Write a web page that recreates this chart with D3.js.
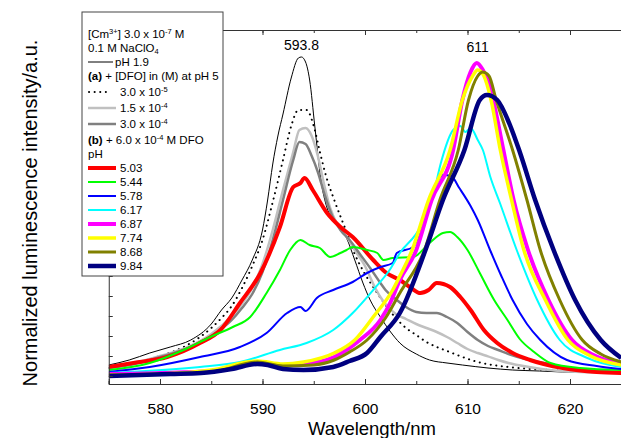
<!DOCTYPE html>
<html>
<head>
<meta charset="utf-8">
<script src="https://cdn.jsdelivr.net/npm/d3@7"></script>
<style>
  html, body { margin: 0; padding: 0; background: #fff; }
  svg { display: block; font-family: Arial, "Liberation Sans", sans-serif; }
</style>
</head>
<body>
<div id="chart"></div>
<script>
// spectra: [wavelength nm, intensity a.u.]
const ph19 = [[575,0.55],[577,0.8],[579,1.15],[581,1.45],[583,1.8],[585,2.6],[586,3.3],[587,3.9],[588,4.8],[589,5.8],[590,7.3],[590.5,8.8],[591,10.6],[591.5,12.0],[592,13.1],[592.8,14.9],[593.5,15.9],[593.8,15.95],[594.2,15.7],[594.6,14.8],[595.1,12.5],[595.7,9.8],[596.3,8.4],[597,7.8],[598.2,6.9],[599,5.8],[599.8,4.65],[600.5,3.8],[601.5,2.95],[602.5,2.2],[603.4,1.65],[605,1.1],[606.3,0.8],[608,0.65],[609.5,0.55],[612,0.4],[614.4,0.3],[617,0.25],[619.3,0.2],[622,0.18],[625,0.15]];
const dfo3e5 = [[575,0.4],[577.5,0.65],[580,1.0],[582.5,1.5],[585,2.4],[586,2.9],[587,3.5],[588,4.4],[589,5.5],[590,6.8],[591,8.7],[592,10.8],[592.8,12.5],[593.5,13.3],[594.3,13.3],[595,12.5],[595.6,11.2],[596.2,10.0],[597,8.8],[598.2,7.2],[599,6.1],[600,5.1],[601,4.3],[602,3.55],[603,2.9],[604,2.4],[605,2.05],[606,1.7],[607,1.45],[608,1.25],[609,1.05],[611,0.7],[614,0.45],[618,0.3],[625,0.2]];
const dfo15e4 = [[575,0.45],[577.5,0.65],[580,1.0],[582.5,1.4],[585,2.1],[587,3.0],[588,3.6],[589,4.4],[590,5.6],[591,7.3],[592,9.3],[593,11.2],[593.6,12.3],[594.2,12.4],[594.8,12.0],[595.4,11.0],[596,9.6],[596.6,8.4],[597.4,7.5],[598.3,6.9],[599,6.3],[600,5.5],[601,4.4],[601.5,3.95],[602,3.6],[603,3.1],[604,2.85],[605,2.6],[606,2.4],[607,2.2],[608,1.95],[609,1.65],[610,1.35],[611,1.15],[612,0.98],[613,0.8],[614,0.65],[616,0.45],[618,0.3],[621,0.2],[625,0.15]];
const dfo3e4 = [[575,0.4],[577.5,0.6],[580,0.95],[582.5,1.35],[585,2.0],[587,2.8],[588,3.4],[589,4.1],[590,5.2],[591,6.8],[592,8.8],[593,10.8],[593.6,11.7],[594.2,11.6],[594.8,11.0],[595.4,10.2],[596.1,9.0],[596.8,8.0],[597.6,7.3],[598.5,6.8],[599.5,6.1],[600.5,5.4],[601.5,4.65],[602,4.3],[603,3.85],[604,3.45],[605,3.2],[606,3.15],[607,3.15],[608,2.95],[609,2.65],[610,2.2],[611,1.8],[612,1.5],[613,1.3],[614,1.1],[616,0.8],[618,0.6],[620,0.4],[622,0.3],[625,0.2]];
const ph503 = [[575,0.45],[577.4,0.65],[580.7,0.95],[583.9,1.65],[585.9,2.3],[587.8,3.65],[589.8,5.15],[591.7,7.45],[593,9.45],[593.7,9.65],[594.1,9.9],[594.9,9.3],[596.3,8.15],[597.6,7.45],[598.8,6.95],[600.8,5.8],[602.1,5.15],[603.4,4.8],[604.5,4.4],[605.4,4.15],[606.2,4.3],[607,4.65],[608.3,4.45],[609.3,3.95],[610.3,3.3],[611.6,2.3],[612.9,1.65],[614.4,1.15],[616.1,0.8],[619.3,0.4],[622.6,0.2],[625,0.15]];
const ph544 = [[575,0.3],[579,0.65],[582.3,1.3],[584.9,1.95],[587.1,2.45],[588.8,2.95],[590.4,4.15],[591.7,5.3],[592.7,6.3],[593.7,6.8],[594.6,6.55],[595.6,6.4],[596.6,5.95],[597.6,6.15],[598.2,6.3],[598.8,6.45],[600.2,6.3],[601.2,6.15],[601.8,5.8],[602.7,5.9],[604.7,5.95],[606.3,6.65],[607.6,7.15],[608.3,7.2],[609,6.95],[610,6.3],[611.2,5.15],[612.6,3.8],[613.9,2.8],[615.1,1.85],[616.5,1.2],[618.1,0.65],[621,0.4],[625,0.3]];
const ph578 = [[575,0.2],[579,0.45],[583.9,0.95],[587.8,1.45],[590.4,2.15],[592.4,3.15],[593.7,3.45],[594.2,3.25],[595.3,3.9],[596.9,4.3],[598.8,4.7],[600.2,5.15],[601.5,5.45],[602.7,5.65],[603.1,6.15],[604.7,6.45],[605.7,7.65],[606.8,9.4],[607.6,10.05],[608.4,10.0],[609.2,9.4],[610.3,8.5],[611,7.8],[612.2,6.3],[613.3,5.0],[614.4,3.8],[615.8,2.6],[617.1,1.8],[619.7,0.8],[622.6,0.5],[625,0.35]];
const ph617 = [[575,0.15],[583.9,0.45],[587.8,0.7],[591.7,1.3],[594.3,1.65],[596.9,2.3],[598.8,3.15],[600.8,4.3],[602.4,5.3],[603.4,6.15],[605.4,7.45],[606.7,9.15],[607.4,10.65],[608.6,12.3],[609.3,12.5],[609.8,12.2],[610.3,12.4],[611,11.8],[611.5,11.3],[612.2,10.0],[613.2,8.6],[614.8,6.3],[616.8,3.8],[619,1.8],[621.7,0.9],[625,0.45]];
const ph687 = [[575,0.1],[580,0.15],[585,0.25],[589.5,0.65],[592,0.55],[594,0.6],[597,0.95],[599.5,1.8],[601.5,2.8],[602.5,3.7],[603.4,4.8],[605,6.3],[606.5,8.8],[608.6,11.3],[609.5,13.8],[610.3,15.2],[610.9,15.65],[611.5,15.3],[612.2,14.5],[612.8,13.1],[613.5,11.3],[614.5,8.8],[615.9,6.3],[617.9,3.8],[620.2,1.8],[622.5,1.0],[625,0.6]];
const ph774 = [[575,0.05],[580,0.1],[585,0.3],[589.5,0.75],[592,0.6],[594,0.7],[597,1.15],[599,1.8],[600.8,2.95],[602.7,4.3],[603.4,5.0],[604.6,6.3],[606.2,8.8],[608.3,11.3],[609.5,13.8],[610.5,15.0],[611,15.3],[611.6,15.0],[612.3,13.8],[613.2,11.3],[614.3,8.8],[615.5,6.3],[617.6,3.8],[619.8,1.8],[622,1.0],[625,0.55]];
const ph868 = [[575,0.05],[580,0.1],[585,0.2],[589.5,0.7],[592,0.5],[595,0.55],[597,0.8],[598.5,1.2],[600.2,1.8],[602,2.9],[603.4,4.15],[605.8,6.3],[607.3,8.8],[609.1,11.3],[610.1,13.8],[611,15.0],[611.5,15.2],[612.1,15.0],[612.8,13.8],[614.4,11.3],[615.8,8.8],[617.1,6.3],[619,3.8],[621.2,1.8],[623,1.1],[625,0.7]];
const ph984 = [[575,0.0],[578,0.05],[581,0.1],[584,0.15],[587,0.35],[589.5,0.6],[590.5,0.55],[592,0.35],[594,0.3],[596.9,0.45],[598.5,0.75],[600.2,1.15],[601.5,1.95],[603.4,3.15],[605.9,6.3],[607.6,8.8],[609.7,11.3],[611.2,13.8],[611.9,14.05],[612.9,13.8],[614.1,12.6],[615.1,11.2],[616.6,8.8],[618.4,6.3],[620.5,3.8],[623,1.8],[625,0.9]];

const phLabels = ['5.03', '5.44', '5.78', '6.17', '6.87', '7.74', '8.68', '9.84'];
const phColors = ['#ff0000', '#00ff00', '#0000ff', '#00ffff', '#ff00ff', '#ffff00', '#808000', '#000080'];
const phWidths = [4, 2, 2, 2, 4, 3.5, 3, 4.5];
const xTicks = [580, 590, 600, 610, 620];
const peakLabels = [[593.8, '593.8'], [611, '611']];

const W = 621, H = 438;
const dots = '0.1,5.5';

const svg = d3.select('#chart').append('svg')
  .attr('width', W)
  .attr('height', H);

const x = d3.scaleLinear().domain([575, 625]).range([108.75, 621.25]);
const y = d3.scaleLinear().domain([-0.4, 17.3]).range([384, 30]);

svg.append('clipPath').attr('id', 'plot-clip')
  .append('rect')
  .attr('x', x(575)).attr('y', y(17.3))
  .attr('width', x(625) - x(575)).attr('height', y(-0.4) - y(17.3));

const line = d3.line()
  .x(d => x(d[0]))
  .y(d => y(d[1]))
  .curve(d3.curveMonotoneX);

// series in drawing order
const series = [
  { data: ph19, color: '#000', width: 1 },
  { data: dfo3e5, color: '#000', width: 2, dash: dots },
  { data: dfo15e4, color: '#c0c0c0', width: 2.5 },
  { data: dfo3e4, color: '#808080', width: 2.5 },
  ...[ph503, ph544, ph578, ph617, ph687, ph774, ph868, ph984].map((d, i) => ({
    data: d, color: phColors[i], width: phWidths[i]
  }))
];

const plot = svg.append('g').attr('clip-path', 'url(#plot-clip)');
plot.selectAll('path')
  .data(series)
  .join('path')
  .attr('d', d => line(d.data))
  .attr('fill', 'none')
  .attr('stroke', d => d.color)
  .attr('stroke-width', d => d.width)
  .attr('stroke-dasharray', d => d.dash || null)
  .attr('stroke-linecap', d => d.dash ? 'round' : 'butt')
  .attr('stroke-linejoin', 'round');

// axes: ticks pointing inward, minor every 5 nm
const axisColor = '#333';
const minor = d3.range(575, 626, 5);

const axBottom = svg.append('g').attr('transform', `translate(0,${y(-0.4)})`)
  .call(d3.axisBottom(x).tickValues(minor).tickSize(-3).tickFormat(''));
axBottom.append('g')
  .call(d3.axisBottom(x).tickValues(xTicks).tickSize(-5).tickPadding(19).tickFormat(d3.format('d')));
axBottom.selectAll('.domain').attr('stroke', axisColor);
axBottom.selectAll('.tick line').attr('stroke', axisColor);
axBottom.selectAll('.tick text').attr('font-size', 15.5).attr('fill', '#000')
  .attr('font-family', 'Arial, "Liberation Sans", sans-serif');

const axTop = svg.append('g').attr('transform', `translate(0,${y(17.3)})`)
  .call(d3.axisTop(x).tickValues(minor).tickSize(-3).tickFormat(''));
axTop.append('g').call(d3.axisTop(x).tickValues(xTicks).tickSize(-5).tickFormat(''));
axTop.selectAll('.domain').attr('stroke', axisColor);
axTop.selectAll('.tick line').attr('stroke', axisColor);

const axLeft = svg.append('g').attr('transform', `translate(${x(575)},0)`)
  .call(d3.axisLeft(y).tickValues(d3.range(0, 18, 1)).tickSize(-4).tickFormat(''));
axLeft.selectAll('.domain').attr('stroke', axisColor);
axLeft.selectAll('.tick line').attr('stroke', axisColor);

// peak labels
svg.append('g').selectAll('text')
  .data(peakLabels)
  .join('text')
  .attr('x', d => x(d[0]))
  .attr('y', (d, i) => i === 0 ? 50 : 52)
  .attr('text-anchor', 'middle')
  .attr('font-size', 14)
  .text(d => d[1]);

// axis titles
svg.append('text')
  .attr('x', 372).attr('y', 435)
  .attr('text-anchor', 'middle')
  .attr('font-size', 18.5)
  .text('Wavelength/nm');

svg.append('text')
  .attr('transform', 'translate(37,213) rotate(-90)')
  .attr('text-anchor', 'middle')
  .attr('font-size', 20)
  .text('Normalized luminescence intensity/a.u.');

// legend
const lg = svg.append('g').attr('font-size', 11.5);
lg.append('rect')
  .attr('x', 82).attr('y', 12).attr('width', 141).attr('height', 264)
  .attr('fill', '#fff').attr('stroke', '#444').attr('stroke-width', 1);

function rich(g, xx, yy, parts) {
  const t = g.append('text').attr('x', xx).attr('y', yy).attr('dy', '0.35em');
  parts.forEach(p => {
    const [s, kind, bold] = p;
    const span = t.append('tspan').text(s);
    if (kind === 'sup') span.attr('baseline-shift', '45%').attr('font-size', 7.5);
    if (kind === 'sub') span.attr('baseline-shift', '-30%').attr('font-size', 7.5);
    if (bold) span.attr('font-weight', 'bold');
  });
  return t;
}

rich(lg, 88, 34, [['[Cm'], ['3+', 'sup'], ['] 3.0 x 10'], ['-7', 'sup'], [' M']]);
rich(lg, 88, 48, [['0.1 M NaClO'], ['4', 'sub']]);
lg.append('line').attr('x1', 88).attr('x2', 113).attr('y1', 62).attr('y2', 62)
  .attr('stroke', '#000').attr('stroke-width', 1);
rich(lg, 115, 62, [['pH 1.9']]);
rich(lg, 88, 76, [['(a)', null, true], [' + [DFO] in (M) at pH 5']]);

const dfoLegend = [
  { y: 92, color: '#000', width: 2, dash: dots, exp: '-5', mant: '3.0' },
  { y: 108, color: '#c0c0c0', width: 2.5, exp: '-4', mant: '1.5' },
  { y: 124, color: '#808080', width: 2.5, exp: '-4', mant: '3.0' }
];
dfoLegend.forEach(d => {
  lg.append('line').attr('x1', d.dash ? 89 : 88).attr('x2', d.dash ? 108 : 116)
    .attr('y1', d.y).attr('y2', d.y)
    .attr('stroke', d.color).attr('stroke-width', d.width)
    .attr('stroke-dasharray', d.dash || null)
    .attr('stroke-linecap', d.dash ? 'round' : 'butt');
  rich(lg, 120, d.y, [[d.mant + ' x 10'], [d.exp, 'sup']]);
});

rich(lg, 88, 140, [['(b)', null, true], [' + 6.0 x 10'], ['-4', 'sup'], [' M DFO']]);
rich(lg, 88, 154, [['pH']]);

phLabels.forEach((lab, i) => {
  const yy = 168 + i * 14;
  lg.append('line').attr('x1', 88).attr('x2', 116).attr('y1', yy).attr('y2', yy)
    .attr('stroke', phColors[i]).attr('stroke-width', phWidths[i]);
  rich(lg, 120, yy, [[lab]]);
});
</script>
</body>
</html>
